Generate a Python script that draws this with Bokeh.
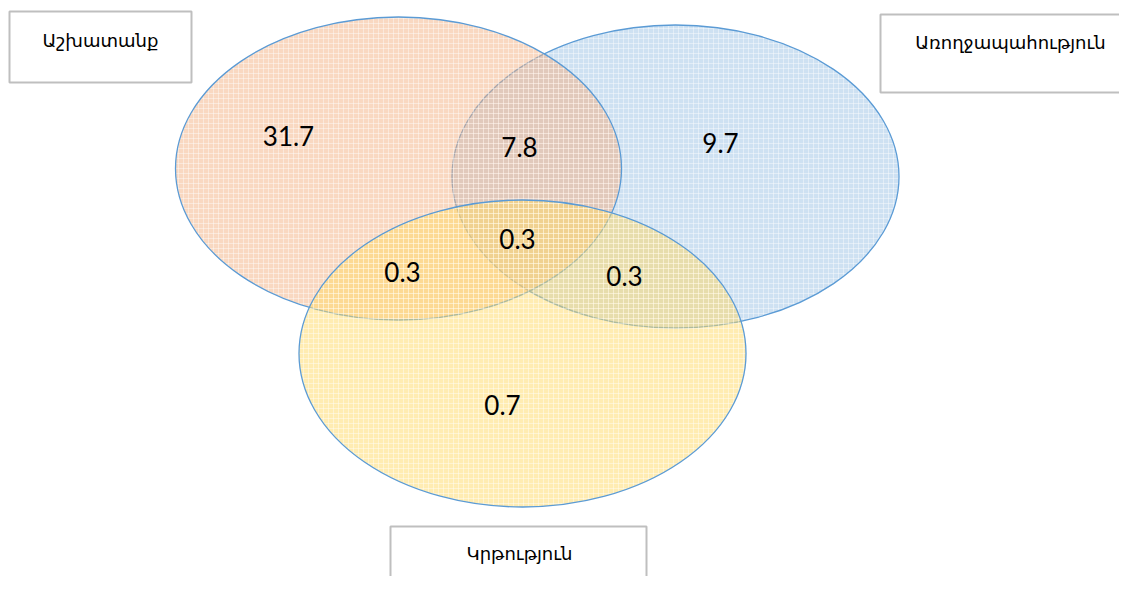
from bokeh.plotting import figure
from bokeh.models import Range1d
from bokeh.core.properties import value
from bokeh.embed import file_html
from bokeh.resources import INLINE

# ---- data ----
set_names = ["Աշխատանք", "Առողջապահություն", "Կրթություն"]
region_names = ["Աշխատանք", "Աշխատանք∩Առողջապահություն", "Առողջապահություն",
                "Բոլորը", "Աշխատանք∩Կրթություն", "Առողջապահություն∩Կրթություն", "Կրթություն"]
region_values = [31.7, 7.8, 9.7, 0.3, 0.3, 0.3, 0.7]

# ---- layout (picture pixel coordinates) ----
W, H = 1119, 576
ell_x = [398, 675, 522]
ell_y = [168, 176, 353]
ell_w = [446, 447, 447]
ell_h = [303, 303, 307]
ell_fill = ["#F4B183", "#9DC3E6", "#FFD966"]
draw_order = [1, 0, 2]

box_left = [9, 880, 390]
box_right = [191, 1160, 646]
box_top = [11, 14, 526]
box_bottom = [82, 92, 620]
lab_x = [100, 1010, 519]
lab_y = [40, 42, 553]

val_x = [288, 519, 720, 517, 402, 624, 502]
val_y = [135, 146, 142, 238, 271, 275, 404]

p = figure(width=W, height=H, x_range=Range1d(0, W), y_range=Range1d(H, 0),
           output_backend="svg", toolbar_location=None, min_border=0)
p.axis.visible = False
p.grid.visible = False
p.outline_line_color = None
p.background_fill_color = "white"
p.border_fill_color = "white"

for i in draw_order:
    p.ellipse(x=[ell_x[i]], y=[ell_y[i]], width=[ell_w[i]], height=[ell_h[i]],
              fill_color=ell_fill[i], fill_alpha=0.5,
              hatch_pattern="+", hatch_color="white", hatch_alpha=0.4,
              hatch_scale=5, hatch_weight=1,
              line_color="#5B9BD5", line_width=1.3)

p.quad(left=box_left, right=box_right, top=box_top, bottom=box_bottom,
       fill_color="white", line_color="#BFBFBF", line_width=2)

p.text(x=lab_x, y=lab_y, text=set_names, text_align="center", text_baseline="middle",
       text_font=value("DejaVu Sans"), text_font_size="18px", text_color="#000000")

p.text(x=val_x, y=val_y, text=[str(v) for v in region_values],
       text_align="center", text_baseline="middle",
       text_font=value("Lato"), text_font_size="26px", text_color="#000000")

open("out.html", "w").write(file_html(p, INLINE))
